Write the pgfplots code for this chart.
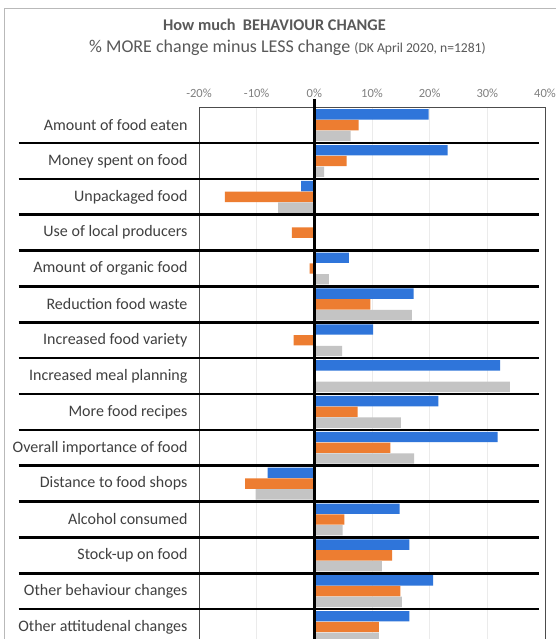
\documentclass[border=0pt]{standalone}
\usepackage{fontspec}
\setmainfont{Carlito}
\usepackage{pgfplots}
\usepackage{pgfplotstable}
\pgfplotsset{compat=1.18}
\definecolor{cblue}{HTML}{2F75DA}
\definecolor{corange}{HTML}{ED7D31}
\definecolor{cgray}{HTML}{C4C4C4}
\definecolor{txt}{HTML}{404040}
\definecolor{ttl}{HTML}{595959}

\pgfplotstableread{
idx blue orange gray
0 19.8 7.7 6.3
1 23.1 5.6 1.7
2 -2.3 -15.5 -6.3
3 0 -3.9 0
4 6.0 -0.8 2.5
5 17.2 9.7 16.9
6 10.2 -3.6 4.8
7 32.2 0 33.9
8 21.5 7.5 15.0
9 31.8 13.2 17.3
10 -8.1 -12.0 -10.2
11 14.8 5.2 4.9
12 16.5 13.5 11.7
13 20.6 14.9 15.2
14 16.5 11.2 11.2
}\datatable

\begin{document}
\begin{tikzpicture}
\useasboundingbox (0pt,0pt) rectangle (556pt,639pt);
\clip (0pt,0pt) rectangle (556pt,639pt);
\fill[white] (0pt,0pt) rectangle (556pt,639pt);
\draw[gray!55, line width=0.8pt] (4pt,0pt) -- (4pt,631pt) -- (556pt,631pt);
\node[anchor=base west, inner sep=0pt, text=ttl, font=\fontsize{16.3}{18}\selectfont\bfseries] at (163pt,608pt) {How much\ \ BEHAVIOUR CHANGE};
\node[anchor=base west, inner sep=0pt, text=ttl] at (89pt,586pt) {\fontsize{18}{20}\selectfont \% MORE change minus LESS change \fontsize{13.6}{15}\selectfont(DK April 2020, n=1281)};

\begin{axis}[
  at={(199pt,-2pt)}, anchor=south west,
  scale only axis, width=346pt, height=533.8pt,
  xmin=-20, xmax=40, ymin=-0.5, ymax=14.39, y dir=reverse,
  xbar, bar width=0.29,
  clip=false,
  axis line style={draw=black!70, line width=0.6pt},
  xtick={-20,-10,0,10,20,30,40},
  xticklabels={-20\%,-10\%,0\%,10\%,20\%,30\%,40\%},
  xticklabel pos=top,
  xticklabel style={font=\fontsize{12.5}{14}\selectfont, text=black!50, yshift=6pt},
  ytick={0,...,14},
  yticklabels={Amount of food eaten, Money spent on food, Unpackaged food, Use of local producers, Amount of organic food, Reduction food waste, Increased food variety, Increased meal planning, More food recipes, Overall importance of food, Distance to food shops, Alcohol consumed, Stock-up on food, Other behaviour changes, Other attitudenal changes},
  yticklabel style={font=\fontsize{16}{18}\selectfont, text=txt, xshift=-8pt},
  major tick length=0pt,
  xmajorgrids, major grid style={black!8, line width=0.5pt},
]
\addplot[fill=cblue, draw=none, bar shift=-0.3] table[x=blue, y=idx] {\datatable};
\addplot[fill=corange, draw=none, bar shift=0] table[x=orange, y=idx] {\datatable};
\addplot[fill=cgray, draw=none, bar shift=0.3] table[x=gray, y=idx] {\datatable};
\pgfplotsinvokeforeach{0.5,1.5,...,13.5}{
  \draw[black, line width=2.6pt] (axis cs:-51.3,#1) -- (axis cs:38.96,#1);
}
\draw[black, line width=2.4pt] (axis cs:0,-0.72) -- (axis cs:0,14.6);
\end{axis}
\end{tikzpicture}
\end{document}
